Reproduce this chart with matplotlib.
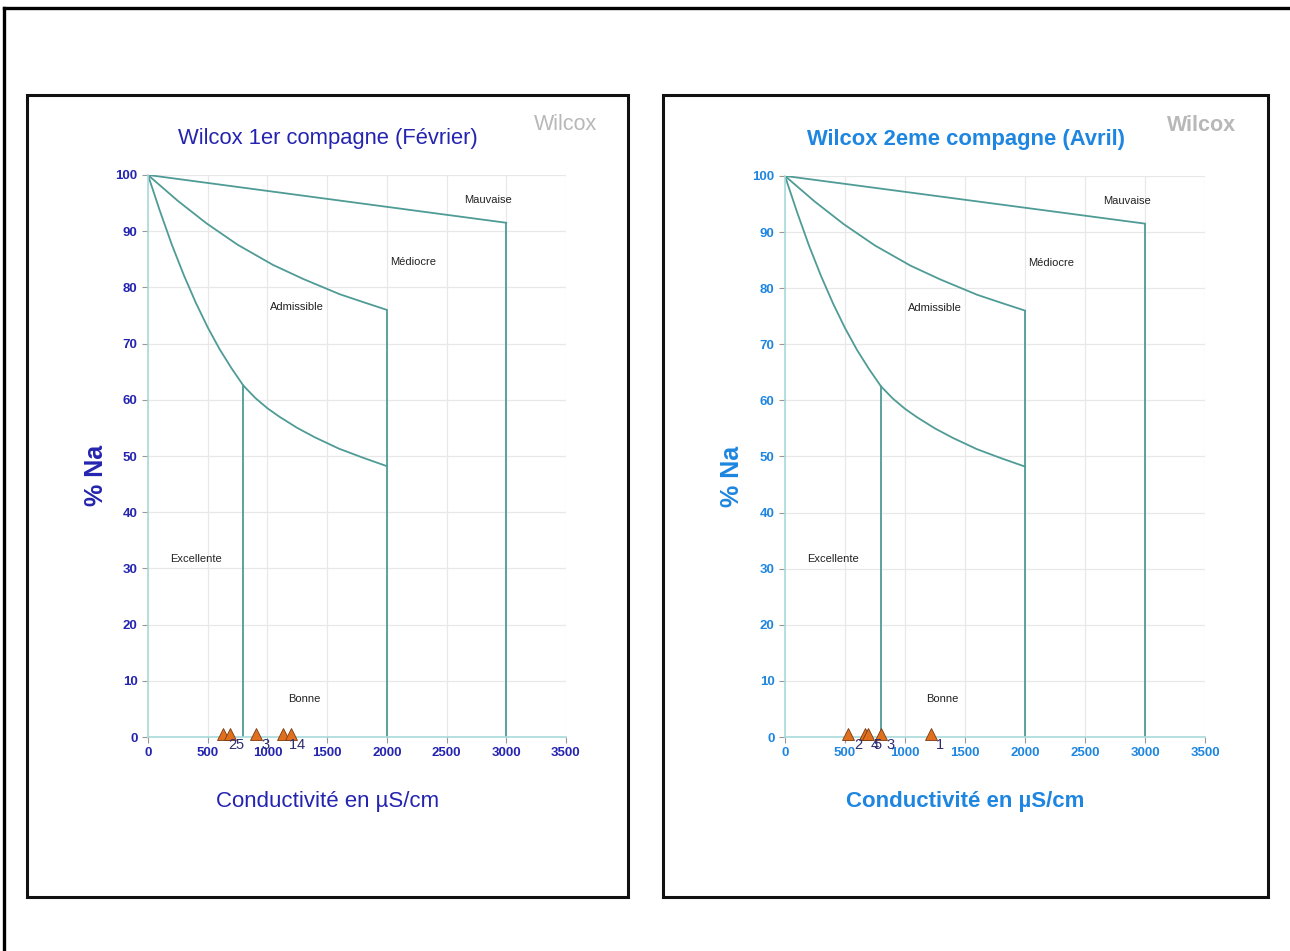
"""
Diagramme de Wilcox pour les deux compagnes (Fevrier / Avril).
"""
import matplotlib
matplotlib.use("Agg")
from matplotlib import pyplot as plt
from matplotlib.patches import Rectangle

plt.rcParams['font.family'] = ['Liberation Sans', 'DejaVu Sans']

excel_x = [0, 100, 200, 300, 400, 500, 600, 700, 800]
excel_y = [100, 93.6, 87.6, 82.2, 77.3, 72.9, 69.0, 65.6, 62.5]
bonne_x = [800, 900, 1000, 1100, 1250, 1400, 1600, 1800, 2000]
bonne_y = [62.5, 60.3, 58.5, 57.0, 55.0, 53.3, 51.3, 49.7, 48.2]
admis_x = [0, 250, 490, 750, 1047, 1300, 1604, 1800, 2000]
admis_y = [100, 95.4, 91.4, 87.6, 84.0, 81.5, 78.8, 77.4, 76.0]
medio_x = [0, 3000]
medio_y = [100, 91.5]
vert_x = [800, 2000, 3000]
vert_top = [62.5, 76.0, 91.5]

zone_names = ["Mauvaise", "Médiocre", "Admissible", "Excellente", "Bonne"]
zone_x = [2850, 2220, 1250, 400, 1310]
zone_y = [95.5, 84.5, 76.5, 31.7, 6.8]

# Points de prelevement
point_ids = ["1", "2", "3", "4", "5"]
feb_cond = [1131, 629, 908, 1200, 690]
feb_na = [0.6, 0.6, 0.6, 0.6, 0.6]
apr_cond = [1213, 528, 797, 667, 694]
apr_na = [0.6, 0.6, 0.6, 0.6, 0.6]

x_ticks = [0, 500, 1000, 1500, 2000, 2500, 3000, 3500]
y_ticks = [0, 10, 20, 30, 40, 50, 60, 70, 80, 90, 100]

LINE_C = "#4f9b95"
AXIS_C = "#a9dada"


def draw_panel(fig, rect, frame, title, color, bold, cond, na):
    fig.patches.append(Rectangle((frame[0], frame[1]), frame[2], frame[3],
                                 transform=fig.transFigure, fill=False,
                                 edgecolor="#111111", linewidth=2.2))
    ax = fig.add_axes(rect)
    weight = "bold" if bold else "normal"

    ax.plot(excel_x, excel_y, color=LINE_C, lw=1.3)
    ax.plot(bonne_x, bonne_y, color=LINE_C, lw=1.3)
    ax.plot(admis_x, admis_y, color=LINE_C, lw=1.3)
    ax.plot(medio_x, medio_y, color=LINE_C, lw=1.3)
    ax.vlines(vert_x, 0, vert_top, color=LINE_C, lw=1.3)

    for name, zx, zy in zip(zone_names, zone_x, zone_y):
        ax.text(zx, zy, name, fontsize=8, ha="center", va="center",
                color="#222222")

    ax.plot(cond, na, linestyle="none", marker="^", markersize=9,
            markerfacecolor="#e0701e", markeredgecolor="#7a3a10",
            markeredgewidth=0.6, clip_on=False, zorder=5)
    for lab, cx, cy in zip(point_ids, cond, na):
        ax.annotate(lab, (cx, cy), xytext=(4, -3), textcoords="offset points",
                    fontsize=10.5, color="#2e2e70", ha="left", va="top",
                    annotation_clip=False, zorder=6)

    ax.set_xlim(0, 3500)
    ax.set_ylim(0, 100)
    ax.set_xticks(x_ticks)
    ax.set_yticks(y_ticks)
    ax.grid(True, color="#e8e8e8", lw=0.9)
    ax.set_axisbelow(True)
    for side in ("top", "right"):
        ax.spines[side].set_visible(False)
    for side in ("left", "bottom"):
        ax.spines[side].set_color(AXIS_C)
        ax.spines[side].set_linewidth(1.2)
    ax.tick_params(length=4, width=0.8, color="#999999", labelsize=9.5,
                   labelcolor=color)
    for lab in ax.get_xticklabels() + ax.get_yticklabels():
        lab.set_fontweight("bold")

    # titre et etiquettes, decales un peu a gauche comme l'original
    ax.text(0.43, 1.065, title, transform=ax.transAxes, fontsize=15.8,
            color=color, fontweight=weight, ha="center", va="center")
    ax.text(0.43, -0.115, "Conductivité en µS/cm", transform=ax.transAxes,
            fontsize=16, color=color, fontweight=weight,
            ha="center", va="center")
    ax.text(-0.125, 0.465, "% Na", transform=ax.transAxes, fontsize=18,
            color=color, fontweight="bold", rotation=90,
            ha="center", va="center")
    ax.text(1.075, 1.09, "Wilcox", transform=ax.transAxes, fontsize=15.5,
            color="#b8b8b8", ha="right", va="center",
            fontweight="bold" if bold else "normal")
    return ax


fig = plt.figure(figsize=(12.9, 9.51), dpi=100)

# cadre exterieur
fig.add_artist(plt.Line2D([0.0031, 1.0], [0.9916, 0.9916],
                          transform=fig.transFigure, color="black", lw=2.4))
fig.add_artist(plt.Line2D([0.0031, 0.0031], [0.0, 0.9916],
                          transform=fig.transFigure, color="black", lw=2.4))

draw_panel(fig, [0.1147, 0.225, 0.3240, 0.591],
           (0.0209, 0.0568, 0.4659, 0.8433),
           "Wilcox 1er compagne (Février)", "#2424b0", False,
           feb_cond, feb_na)
draw_panel(fig, [0.6085, 0.225, 0.3256, 0.590],
           (0.5140, 0.0568, 0.4690, 0.8433),
           "Wilcox 2eme compagne (Avril)", "#1e86e0", True,
           apr_cond, apr_na)

plt.savefig("out.png", dpi=100)
plt.close()
